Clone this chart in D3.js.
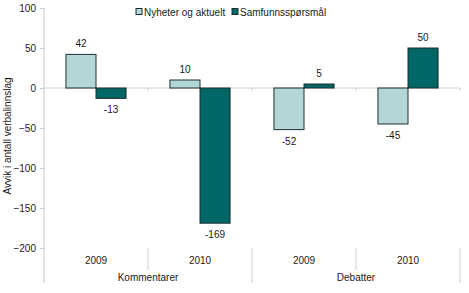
<!DOCTYPE html>
<html>
<head>
<meta charset="utf-8">
<script src="https://cdn.jsdelivr.net/npm/d3@7"></script>
<style>
  body { margin: 0; background: #fff; }
  text { font-family: "Liberation Sans", Arial, sans-serif; fill: #1a1a1a; }
</style>
</head>
<body>
<script>
// categories and series
var groups = ["Kommentarer", "Debatter"];
var years = ["2009", "2010"];
var seriesNames = ["Nyheter og aktuelt", "Samfunnsspørsmål"];
var nyheter = [42, 10, -52, -45];
var samfunn = [-13, -169, 5, 50];
var yTicks = [100, 50, 0, -50, -100, -150, -200];
var colors = ["#b3d7d8", "#006666"];

var W = 469, H = 293;
var plotLeft = 44, plotRight = 460, plotTop = 8, plotBottom = 248;

var svg = d3.select("body").
  append("svg").
  attr("width", W).
  attr("height", H);

var slots = [];
groups.forEach(function(g, gi) {
  years.forEach(function(yr, yi) {
    slots.push({group: g, year: yr, i: gi * years.length + yi});
  });
});

var x = d3.scaleBand()
  .domain(slots.map(function(d) { return d.i; }))
  .range([plotLeft, plotRight])
  .paddingInner(0)
  .paddingOuter(0);

var inner = d3.scaleBand()
  .domain([0, 1])
  .range([0, x.bandwidth()])
  .paddingOuter(0.73)
  .paddingInner(0);

var y = d3.scaleLinear().domain([-200, 100]).range([plotBottom, plotTop]);

// y axis
var yAxis = d3.axisLeft(y).tickValues(yTicks).tickSize(4).tickFormat(d3.format("d"));
var gy = svg.append("g").attr("transform", "translate(" + plotLeft + ",0)").call(yAxis);
gy.select(".domain").attr("stroke", "#c8c8c8").attr("d", "M0," + plotTop + "V" + 283);
gy.selectAll(".tick line").attr("stroke", "#c8c8c8");
gy.selectAll(".tick text").attr("font-size", 10).attr("fill", "#1a1a1a")
  .attr("font-family", "Liberation Sans, Arial, sans-serif").attr("x", -8);

// zero line
svg.append("line")
  .attr("x1", plotLeft).attr("x2", plotRight)
  .attr("y1", y(0)).attr("y2", y(0))
  .attr("stroke", "#d0d0d0");

// small ticks on zero line at slot edges
svg.selectAll(".zt").data(slots.map(function(d) { return x(d.i) + x.bandwidth(); }))
  .enter().append("line")
  .attr("x1", function(d) { return d; }).attr("x2", function(d) { return d; })
  .attr("y1", y(0)).attr("y2", y(0) + 3)
  .attr("stroke", "#d0d0d0");

// bars
var bars = [];
slots.forEach(function(s) {
  bars.push({slot: s.i, k: 0, v: nyheter[s.i]});
  bars.push({slot: s.i, k: 1, v: samfunn[s.i]});
});

svg.selectAll("rect.bar").data(bars).enter().append("rect")
  .attr("class", "bar")
  .attr("x", function(d) { return x(d.slot) + inner(d.k); })
  .attr("width", inner.bandwidth())
  .attr("y", function(d) { return y(Math.max(0, d.v)); })
  .attr("height", function(d) { return Math.abs(y(d.v) - y(0)); })
  .attr("fill", function(d) { return colors[d.k]; })
  .attr("stroke", "#1f2f2f")
  .attr("stroke-width", 1);

svg.selectAll("text.val").data(bars).enter().append("text")
  .attr("class", "val")
  .attr("x", function(d) { return x(d.slot) + inner(d.k) + inner.bandwidth() / 2; })
  .attr("y", function(d) { return d.v >= 0 ? y(d.v) - 7 : y(d.v) + 15; })
  .attr("text-anchor", "middle")
  .attr("font-size", 10)
  .text(function(d) { return d.v; });

// category axis: year labels
svg.selectAll("text.yr").data(slots).enter().append("text")
  .attr("class", "yr")
  .attr("x", function(d) { return x(d.i) + x.bandwidth() / 2; })
  .attr("y", 264)
  .attr("text-anchor", "middle")
  .attr("font-size", 10)
  .text(function(d) { return d.year; });

// separators
slots.forEach(function(s, i) {
  var xe = x(s.i) + x.bandwidth();
  var isGroupEnd = (i % years.length) === years.length - 1;
  svg.append("line")
    .attr("x1", xe).attr("x2", xe)
    .attr("y1", plotBottom).attr("y2", isGroupEnd ? 283 : 270)
    .attr("stroke", "#d0d0d0");
});

// group labels
groups.forEach(function(g, gi) {
  var x0 = x(gi * years.length);
  var x1 = x(gi * years.length + years.length - 1) + x.bandwidth();
  svg.append("text")
    .attr("x", (x0 + x1) / 2)
    .attr("y", 281)
    .attr("text-anchor", "middle")
    .attr("font-size", 10)
    .text(g);
});

// y axis title
svg.append("text")
  .attr("transform", "translate(11,136) rotate(-90)")
  .attr("text-anchor", "middle")
  .attr("font-size", 10)
  .text("Avvik i antall verbalinnslag");

// legend
var legendX = [136, 232];
seriesNames.forEach(function(name, i) {
  var lg = svg.append("g").attr("transform", "translate(" + legendX[i] + ",8)");
  lg.append("rect").attr("x", 0).attr("y", 0.5).attr("width", 6).attr("height", 6)
    .attr("fill", colors[i]).attr("stroke", "#1f2f2f").attr("stroke-width", 1);
  lg.append("text").attr("x", 8).attr("y", 8).attr("font-size", 10).text(name);
});
</script>
</body>
</html>
